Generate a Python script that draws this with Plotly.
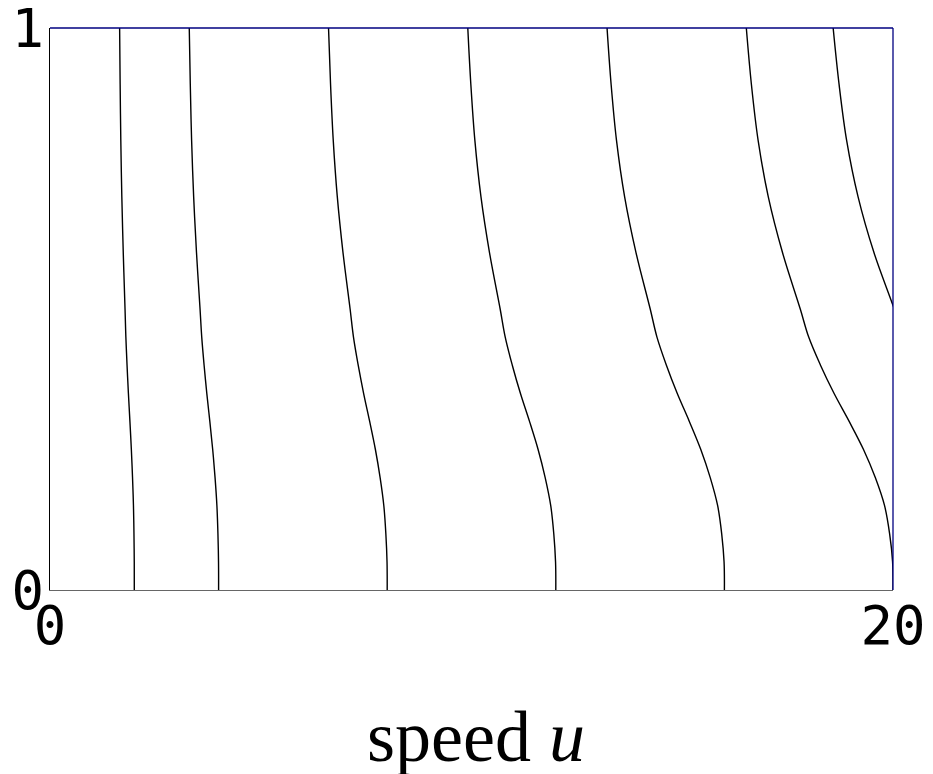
import plotly.graph_objects as go

# Height fraction along the channel (vertical axis)
v_levels = [0.0, 0.05, 0.1, 0.15, 0.2, 0.25, 0.3, 0.35, 0.4, 0.45, 0.5, 0.6, 0.7, 0.8, 0.9, 1.0]

# Speed u of each level line at the heights above
u_line_a = [2.000, 1.999, 1.992, 1.980, 1.958, 1.930, 1.896, 1.860, 1.828, 1.800, 1.780, 1.738, 1.704, 1.680, 1.664, 1.652]
u_line_b = [4.000, 3.998, 3.984, 3.960, 3.916, 3.860, 3.792, 3.720, 3.656, 3.600, 3.560, 3.476, 3.408, 3.360, 3.328, 3.304]
u_line_c = [8.000, 7.996, 7.968, 7.920, 7.832, 7.720, 7.584, 7.440, 7.312, 7.200, 7.120, 6.952, 6.816, 6.720, 6.656, 6.608]
u_line_d = [12.00, 11.994, 11.952, 11.88, 11.748, 11.58, 11.376, 11.16, 10.968, 10.80, 10.68, 10.428, 10.224, 10.08, 9.984, 9.912]
u_line_e = [16.00, 15.992, 15.936, 15.84, 15.664, 15.44, 15.168, 14.88, 14.624, 14.40, 14.24, 13.904, 13.632, 13.44, 13.312, 13.216]
u_line_f = [20.00, 19.99, 19.92, 19.80, 19.58, 19.30, 18.96, 18.60, 18.28, 18.00, 17.80, 17.38, 17.04, 16.80, 16.64, 16.52]

# Last line only enters the window in its upper half
v_levels_g = [0.4, 0.45, 0.5, 0.6, 0.7, 0.8, 0.9, 1.0]
u_line_g = [20.56, 20.25, 20.03, 19.55, 19.17, 18.90, 18.72, 18.58]

x_ticks = [0, 20]
x_tick_text = ["0", "20"]
y_ticks = [0, 1]
y_tick_text = ["0", "1"]
x_title = "speed <i>u</i>"

fig = go.Figure()
for u_vals, v_vals in [
    (u_line_a, v_levels), (u_line_b, v_levels), (u_line_c, v_levels),
    (u_line_d, v_levels), (u_line_e, v_levels), (u_line_f, v_levels),
    (u_line_g, v_levels_g),
]:
    fig.add_trace(go.Scatter(
        x=u_vals, y=v_vals, mode="lines",
        line=dict(color="black", width=1.4, shape="spline"),
        showlegend=False, hoverinfo="skip",
    ))

# Top and right border in navy
fig.add_shape(type="line", xref="paper", yref="paper", x0=0, x1=1, y0=1, y1=1,
              line=dict(color="#000080", width=1.3))
fig.add_shape(type="line", xref="paper", yref="paper", x0=1, x1=1, y0=0, y1=1,
              line=dict(color="#000080", width=1.3))

# Horizontal axis caption below the tick labels
fig.add_annotation(
    text=x_title, xref="paper", yref="paper", x=0.505, y=-0.261,
    xanchor="center", yanchor="middle", showarrow=False,
    font=dict(family="Liberation Serif", size=72, color="black"),
)

tick_font = dict(family="DejaVu Sans Mono", size=54, color="black")

fig.update_layout(
    width=933, height=774,
    margin=dict(l=50, r=40, t=28, b=184),
    paper_bgcolor="white", plot_bgcolor="white",
    xaxis=dict(
        range=[0, 20], tickvals=x_ticks, ticktext=x_tick_text,
        showgrid=False, zeroline=False, ticks="",
        showline=True, linecolor="#666666", linewidth=1.2,
        tickfont=tick_font, automargin=False, ticklabeloverflow="allow",
        ticklabelstandoff=-12,
    ),
    yaxis=dict(
        range=[0, 1], tickvals=y_ticks, ticktext=y_tick_text,
        showgrid=False, zeroline=False, ticks="",
        showline=True, linecolor="black", linewidth=1.2,
        tickfont=tick_font, automargin=False, ticklabelstandoff=-6,
        ticklabeloverflow="allow",
    ),
)

fig.write_html("out.html")
